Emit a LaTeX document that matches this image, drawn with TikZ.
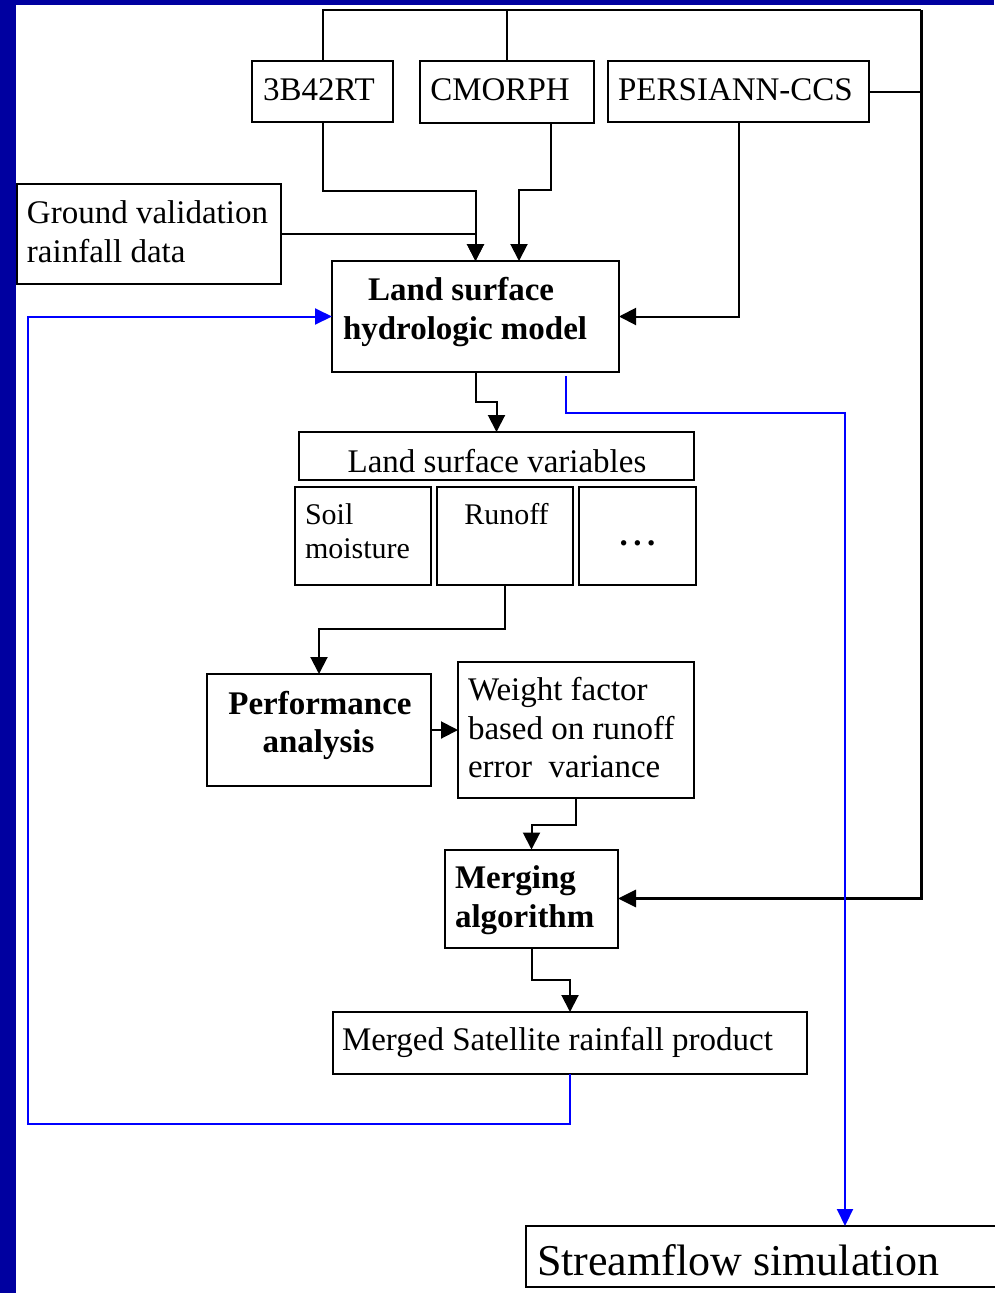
\documentclass[tikz,border=0pt]{standalone}
\usepackage{fontspec}
\setmainfont{Liberation Serif}
\usetikzlibrary{arrows.meta}
\definecolor{bgblue}{RGB}{0,0,160}
\definecolor{lnblue}{RGB}{0,0,255}
\tikzset{
  every node/.style={inner sep=0pt, outer sep=0pt},
  box/.style 2 args={draw=black, line width=2pt, minimum width=#1pt, minimum height=#2pt},
  txt/.style={font=\fontsize{33}{39}\selectfont, anchor=base},
  txtl/.style={txt, anchor=base west},
  txtb/.style={font=\fontsize{33}{39}\selectfont\bfseries, anchor=base},
  txtbl/.style={txtb, anchor=base west},
  txts/.style={font=\fontsize{30}{34}\selectfont, anchor=base},
  txtsl/.style={txts, anchor=base west},
  conn/.style={draw=black, line width=2pt},
  arr/.style={conn, -{Triangle[length=17pt, width=17pt]}},
  bigconn/.style={draw=black, line width=3pt},
  bigarr/.style={bigconn, -{Triangle[length=18pt, width=17pt]}},
  bluearr/.style={draw=lnblue, line width=2pt, -{Triangle[length=17pt, width=16pt]}},
}
\begin{document}
\begin{tikzpicture}[x=1pt, y=-1pt]
\useasboundingbox (0,0) rectangle (994,1293);
\fill[white] (0,0) rectangle (994,1293);
\fill[bgblue] (0,0) rectangle (16,1293);
\fill[bgblue] (0,0) rectangle (994,5);

% boxes
\node[box={141}{61}] (b3) at (322.5,91.5) {};
\node[box={174}{62}] (cm) at (507,92) {};
\node[box={261}{61}] (pe) at (738.5,91.5) {};
\node[box={264}{100}] (gv) at (149,234) {};
\node[box={287}{111}] (lm) at (475.5,316.5) {};
\node[box={395}{48}] (lv) at (496.5,456) {};
\node[box={136}{98}] (sm) at (363,536) {};
\node[box={136}{98}] (ro) at (505,536) {};
\node[box={117}{98}] (dd) at (637.5,536) {};
\node[box={224}{112}] (pa) at (319,730) {};
\node[box={236}{136}] (wf) at (576,730) {};
\node[box={173}{98}] (ma) at (531.5,898.5) {};
\node[box={474}{62}] (ms) at (570,1043) {};
\node[box={474}{61}] (sf) at (763,1256.5) {};

% texts
\node[txt] (t3b) at (319,100) {3B42RT};
\node[txt] (tcm) at (500,100) {CMORPH};
\node[txt] (tpe) at (735.5,100) {PERSIANN-CCS};
\node[txtl] (tgv1) at (27,223) {Ground validation};
\node[txtl] (tgv2) at (27,262) {rainfall data};
\node[txtbl] (tlm1) at (368,300) {Land surface};
\node[txtbl] (tlm2) at (343,339) {hydrologic model};
\node[txt] (tlv) at (497,472) {Land surface variables};
\node[txtsl] (tsm1) at (305,524) {Soil};
\node[txtsl] (tsm2) at (305,558) {moisture};
\node[txts] (tro) at (506.5,524) {Runoff};
\node[txt] (tdd) at (637.5,545) {\textbf{.\,.\,.}};
\node[txtb] (tpa1) at (320,714) {Performance};
\node[txtb] (tpa2) at (318.5,752) {analysis};
\node[txtl] (twf1) at (468,700) {Weight factor};
\node[txtl] (twf2) at (468,739) {based on runoff};
\node[txtl] (twf3) at (468,777) {error\ \ variance};
\node[txtbl] (tma1) at (455,888) {Merging};
\node[txtbl] (tma2) at (455,927) {algorithm};
\node[txtl] (tms) at (342,1050) {Merged Satellite rainfall product};
\node[txtl, font=\fontsize{44}{50}\selectfont] (tsf) at (537,1275) {Streamflow simulation};

% bend coordinates
\coordinate (topc) at (921,10);
\coordinate (k1) at (475.5,191);
\coordinate (k2a) at (551,190);
\coordinate (k2b) at (519,190);
\coordinate (k3) at (475.5,402);
\coordinate (k4) at (566,413);
\coordinate (k5) at (845,413);
\coordinate (k6) at (505,629);
\coordinate (k7) at (576,825);
\coordinate (k8) at (531.5,980);
\coordinate (k9) at (570,1124);
\coordinate (k10) at (28,1124);

% top feed lines
\draw[conn] (b3.north) |- (topc);
\draw[conn] (cm.north) -- (cm.north |- topc);
\draw[conn] (pe.east) -- (pe.east -| topc);
\draw[bigarr] (topc) |- (ma.east);

% into land surface model
\draw[arr] (b3.south) |- (k1) -- (lm.north);
\draw[arr] (gv.east) -| (lm.north);
\draw[arr] (k2a |- cm.south) -- (k2a) -- (k2b) -- (k2b |- lm.north);
\draw[arr] (pe.south) |- (lm.east);

% model to variables
\draw[arr] (lm.south) -- (k3) -| (lv.north);

% model to streamflow (blue)
\draw[bluearr] ([yshift=-4pt]k4 |- lm.south) -- (k4) -- (k5) -- (k5 |- sf.north);

% runoff to performance
\draw[arr] (ro.south) -- (k6) -| (pa.north);
\draw[arr] (pa.east) -- (wf.west);
\draw[arr] (wf.south) -- (k7) -| (ma.north);
\draw[arr] (ma.south) -- (k8) -| (ms.north);

% feedback (blue)
\draw[bluearr] (ms.south) -- (k9) -- (k10) |- (lm.west);
\end{tikzpicture}
\end{document}
